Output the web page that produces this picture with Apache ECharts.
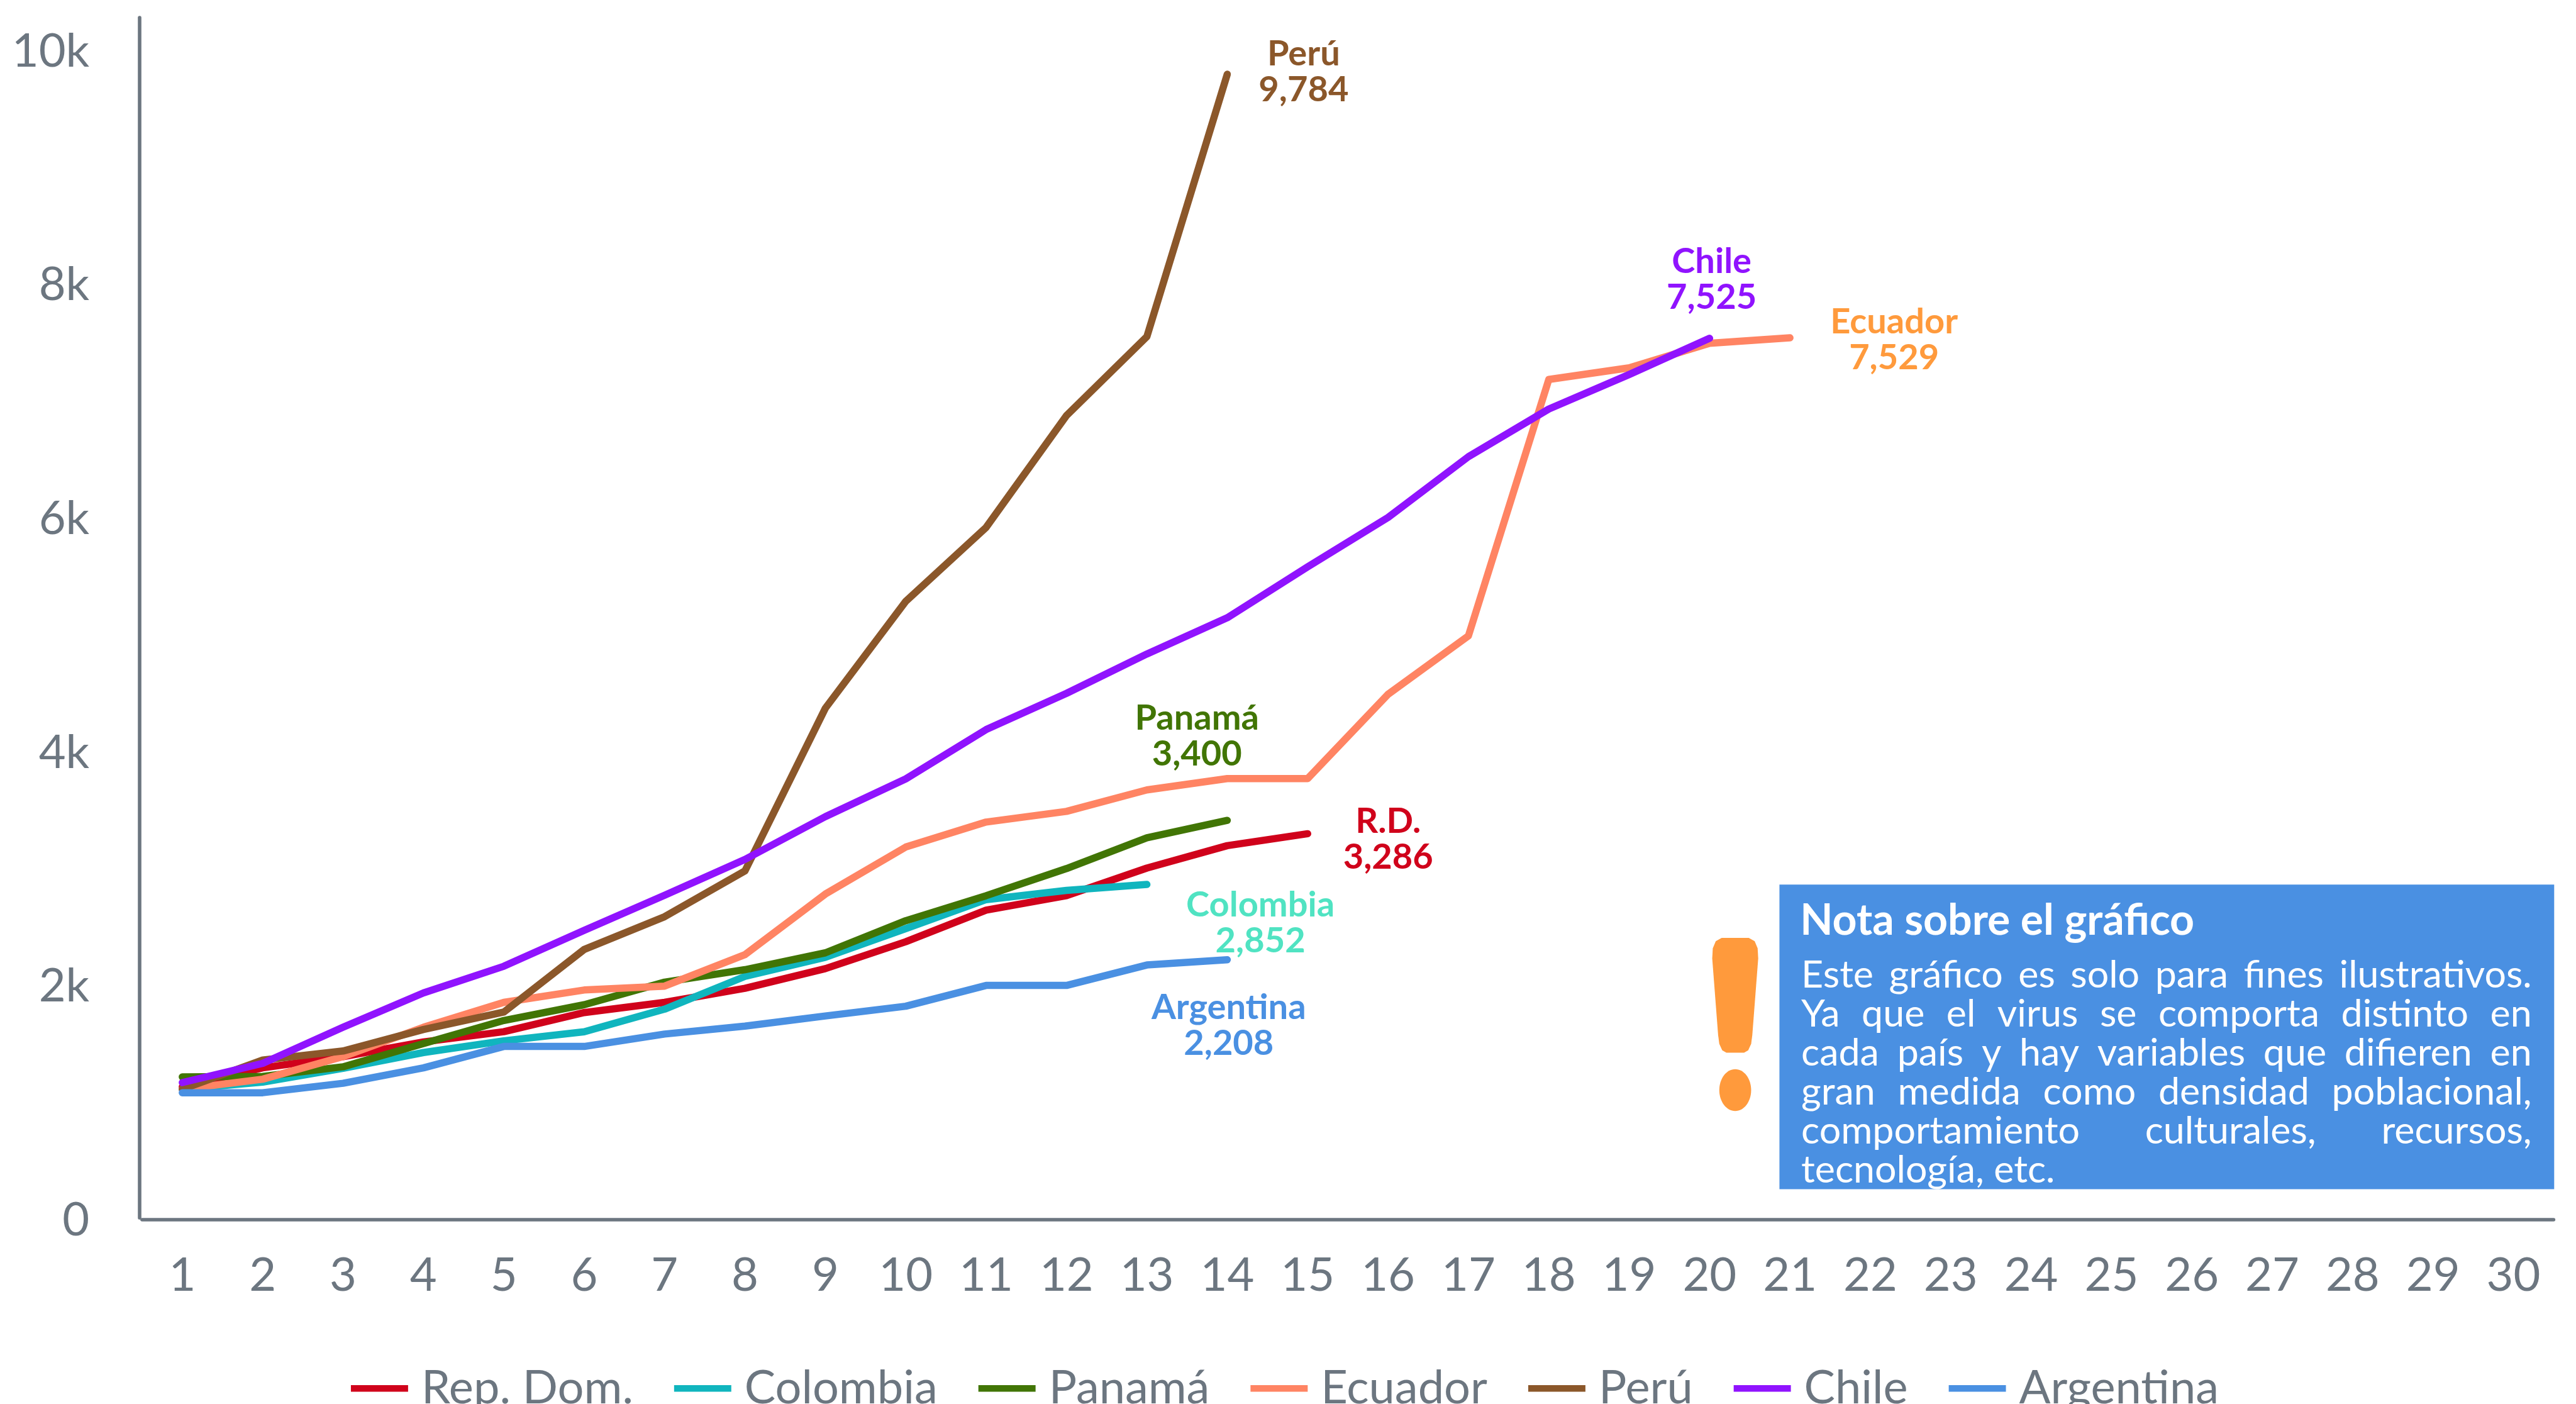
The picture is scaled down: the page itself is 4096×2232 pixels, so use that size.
<!DOCTYPE html>
<html><head><meta charset="utf-8">
<style>html,body{margin:0;padding:0;background:#fff}#c{width:4096px;height:2232px}</style>
<script src="https://cdn.jsdelivr.net/npm/echarts@6/dist/echarts.min.js"></script>
</head><body><div id="c"></div>
<script>
const days = Array.from({length:30},(_,i)=>String(i+1));
const repDom    = [1120,1283,1379,1505,1592,1756,1843,1964,2132,2362,2632,2756,2992,3184,3286];
const colombia  = [1100,1161,1279,1414,1514,1592,1785,2065,2229,2474,2722,2801,2852];
const panama    = [1205,1209,1292,1491,1688,1823,2016,2123,2267,2542,2756,2988,3251,3400];
const ecuador   = [1100,1186,1379,1630,1843,1949,1982,2252,2770,3172,3386,3477,3661,3758,3758,4479,4979,7173,7272,7482,7529];
const peru      = [1100,1350,1427,1611,1760,2296,2576,2968,4360,5274,5907,6864,7539,9784];
const chile     = [1157,1321,1630,1924,2152,2460,2760,3066,3432,3755,4177,4487,4824,5134,5570,5992,6512,6920,7215,7525];
const argentina = [1070,1070,1151,1283,1466,1466,1572,1640,1727,1810,1988,1988,2163,2208];

const S = 4096/4369;
const FONT = 'Lato';
const AXIS = '#6C7680';
const seriesDefs = [
  {name:'Rep. Dom.', tag:'R.D.',      data:repDom,    color:'#D0021B', lab:'#D0021B', off:[128,7]},
  {name:'Colombia',  tag:'Colombia',  data:colombia,  color:'#10B5BE', lab:'#50E3C2', off:[184,63]},
  {name:'Panamá',    tag:'Panamá',    data:panama,    color:'#417505', lab:'#417505', off:[-60,-146]},
  {name:'Ecuador',   tag:'Ecuador',   data:ecuador,   color:'#FF8463', lab:'#FF9A3C', off:[168,1]},
  {name:'Perú',      tag:'Perú',      data:peru,      color:'#8B572A', lab:'#8B572A', off:[121,-7]},
  {name:'Chile',     tag:'Chile',     data:chile,     color:'#9013FE', lab:'#9013FE', off:[-5,-103]},
  {name:'Argentina', tag:'Argentina', data:argentina, color:'#4A90E2', lab:'#4A90E2', off:[-6,109]}
];
const noteTitle = 'Nota sobre el gráfico';
const noteLines = [
  'Este gráfico es solo para fines ilustrativos.',
  'Ya que el virus se comporta distinto en',
  'cada país y hay variables que difieren en',
  'gran medida como densidad poblacional,',
  'comportamiento culturales, recursos,',
  'tecnología, etc.'
];

const chart = echarts.init(document.getElementById('c'));
const mctx = document.createElement('canvas').getContext('2d');
const bodySize = 65*S;
mctx.font = bodySize+'px '+FONT;
const graphics = [];
graphics.push({type:'rect',shape:{x:3018*S,y:1500*S,width:(4332-3018)*S,height:(2016.5-1500)*S},style:{fill:'#4A90E2'},z:10});
graphics.push({type:'text',style:{text:noteTitle,x:3053*S,y:1562*S,fill:'#fff',font:'bold '+(72.5*S)+'px '+FONT,textVerticalAlign:'middle'},z:11});
const L=3055*S,R=4294*S,top0=1654*S,pitch=66*S;
noteLines.forEach((ln,i)=>{
  const w=ln.split(' ');
  const y=top0+i*pitch;
  if(i===noteLines.length-1){
    graphics.push({type:'text',style:{text:ln,x:L,y,fill:'#fff',font:bodySize+'px '+FONT,textVerticalAlign:'middle'},z:11});
    return;
  }
  const ws=w.map(t=>mctx.measureText(t).width);
  const gap=(R-L-ws.reduce((a,b)=>a+b,0))/(w.length-1);
  let x=L;
  w.forEach((t,j)=>{
    graphics.push({type:'text',style:{text:t,x,y,fill:'#fff',font:bodySize+'px '+FONT,textVerticalAlign:'middle'},z:11});
    x+=ws[j]+gap;
  });
});
const exOutline = [[2904,1625],[2905,1608],[2910,1596],[2920,1590.5],[2966,1590.5],[2976,1596],[2981,1608],[2982,1625],
  [2972,1755],[2970,1770],[2965,1781],[2958,1785],[2928,1785],[2921,1781],[2916,1770],[2914,1755]];
graphics.push({type:'polygon',shape:{points:exOutline.map(p=>[p[0]*S,p[1]*S])},style:{fill:'#FF9A3C'},z:10});
graphics.push({type:'ellipse',shape:{cx:2943*S,cy:1848.5*S,rx:27*S,ry:35.5*S},style:{fill:'#FF9A3C'},z:10});

chart.setOption({
  animation:false,
  backgroundColor:'#fff',
  textStyle:{fontFamily:FONT},
  grid:{left:241*S,right:4096-4331*S,top:30*S,bottom:2232-2065*S,containLabel:false},
  legend:{
    left:593*S-3, top:2349*S-37, icon:'rect', itemWidth:97*S, itemHeight:11*S, itemGap:65,
    textStyle:{fontFamily:FONT,fontSize:74,color:AXIS,padding:[0,0,0,16]},
    data:seriesDefs.map(d=>d.name)
  },
  xAxis:{type:'category',data:days,boundaryGap:true,offset:3*S,
    axisLine:{onZero:false,lineStyle:{color:AXIS,width:5.6}},axisTick:{show:false},
    axisLabel:{interval:0,fontFamily:FONT,fontSize:74,color:AXIS,margin:52}},
  yAxis:{type:'value',min:0,max:10268,interval:2000,offset:4*S,
    axisLine:{show:true,lineStyle:{color:AXIS,width:5.6}},axisTick:{show:false},splitLine:{show:false},
    axisLabel:{fontFamily:FONT,fontSize:74,color:AXIS,margin:80,showMaxLabel:false,
      rich:{v:{fontFamily:FONT,fontSize:74,color:AXIS,padding:[8,0,0,0]}},
      formatter:v=>'{v|'+(v===0?'0':(v/1000)+'k')+'}'}},
  series:seriesDefs.map(d=>({
    name:d.name,type:'line',data:d.data,symbol:'none',showSymbol:false,smooth:false,
    color:d.color,
    lineStyle:{color:d.color,width:11.5,cap:'round',join:'round'},
    itemStyle:{color:d.color},
    endLabel:{show:true,position:'inside',align:'center',verticalAlign:'middle',
      offset:[d.off[0]*S,(d.off[1]+3)*S],fontFamily:FONT,fontWeight:'bold',fontSize:56,lineHeight:57,
      color:d.lab,formatter:()=>d.tag+'\n'+d.data[d.data.length-1].toLocaleString('en-US')}
  })),
  graphic:{elements:graphics}
});
</script></body></html>
